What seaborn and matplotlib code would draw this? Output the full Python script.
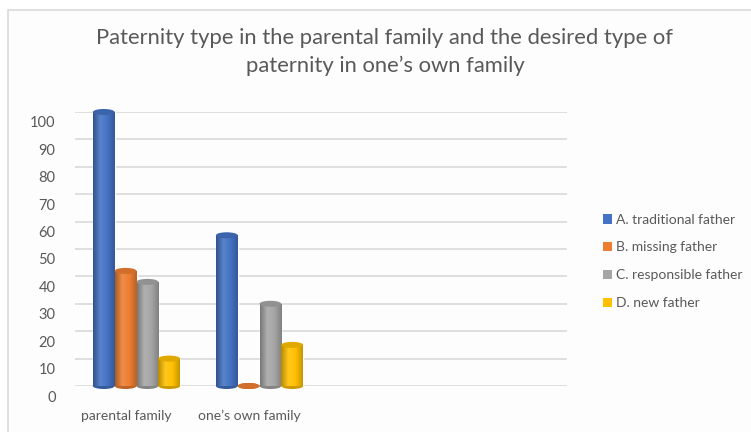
import matplotlib
matplotlib.use("Agg")
import matplotlib.pyplot as plt
import matplotlib.transforms as mtrans
from matplotlib.patches import Rectangle, Patch, Ellipse
from matplotlib.colors import LinearSegmentedColormap, to_rgb
import numpy as np
import seaborn as sns
import pandas as pd

categories = ["parental family", "one\u2019s own family"]
series = ["A. traditional father", "B. missing father", "C. responsible father", "D. new father"]
values_parental = [100, 42, 38, 10]
values_own = [55, 0, 30, 15]
yticks = [0, 10, 20, 30, 40, 50, 60, 70, 80, 90, 100]
colors = ["#4472C4", "#ED7D31", "#A5A5A5", "#FFC000"]
title = "Paternity type in the parental family and the desired type of\npaternity in one\u2019s own family"

rows = []
for s, a, b in zip(series, values_parental, values_own):
    rows.append({"category": categories[0], "series": s, "value": a})
    rows.append({"category": categories[1], "series": s, "value": b})
df = pd.DataFrame(rows)

sns.set_theme(style="white")
plt.rcParams["font.family"] = ["Lato", "DejaVu Sans"]

fig = plt.figure(figsize=(7.51, 4.32), dpi=100)
fig.patch.set_facecolor("white")
# chart border (cropped screenshot)
fig.patches.append(Rectangle((8 / 751, -0.1), 1.2, (432 - 10) / 432 + 0.1,
                             transform=fig.transFigure, facecolor="#fdfdfd",
                             edgecolor="#d9d9d9", linewidth=1.2, zorder=-5))

ax = fig.add_axes([75 / 751, (432 - 386) / 432, (567 - 75) / 751, (386 - 112) / 432])
ax.set_zorder(2)
ax.set_facecolor("none")
sns.barplot(data=df, x="category", y="value", hue="series", order=categories,
            hue_order=series, palette=colors, width=0.71, saturation=1,
            ax=ax, legend=False, zorder=3)
ax.set_xlim(-0.5, 3.5)
ax.set_ylim(0, 100)
ax.set_yticks(yticks)
ax.grid(axis="y", color="#d9d9d9", linewidth=1.2, zorder=0)
ax.set_axisbelow(True)
for sp in ax.spines.values():
    sp.set_visible(False)
ax.set_xlabel("")
ax.set_ylabel("")
ax.tick_params(axis="y", length=0, pad=14, labelsize=10.5, labelcolor="#595959")
ax.tick_params(axis="x", length=0, pad=17, labelsize=10, labelcolor="#595959")
off = mtrans.ScaledTranslation(0, -10 / 100, fig.dpi_scale_trans)
for lbl in ax.get_yticklabels():
    lbl.set_transform(lbl.get_transform() + off)
offx = mtrans.ScaledTranslation(-10 / 100, 0, fig.dpi_scale_trans)
for lbl in ax.get_xticklabels():
    lbl.set_transform(lbl.get_transform() + offx)

# cylinder-like shading and caps derived from the drawn bars
def shade(c, f):
    r = np.array(to_rgb(c))
    return tuple(np.clip(r * f, 0, 1))

def lighten(c, f):
    r = np.array(to_rgb(c))
    return tuple(np.clip(r + (1 - r) * f, 0, 1))

cap_h = 2.2  # in data units (y), visual only
bars = [p for p in ax.patches if isinstance(p, Rectangle)]
for p in bars:
    x, w, h = p.get_x(), p.get_width(), p.get_height()
    c = p.get_facecolor()
    cmap = LinearSegmentedColormap.from_list(
        "cyl", [shade(c, 0.72), lighten(c, 0.12), c, shade(c, 0.78)])
    if h > 0:
        grad = np.linspace(0, 1, 64).reshape(1, -1)
        im = ax.imshow(grad, extent=(x, x + w, 0, h), aspect="auto", cmap=cmap,
                       zorder=3.1, interpolation="bilinear")
        im.set_clip_path(p)
    ax.add_patch(Ellipse((x + w / 2, 0), w, cap_h, facecolor=shade(c, 0.8),
                         edgecolor="none", zorder=3.05, clip_on=False))
    ax.add_patch(Ellipse((x + w / 2, h), w, cap_h, facecolor=shade(c, 0.88),
                         edgecolor="none", zorder=3.2, clip_on=False))
ax.set_xlim(-0.5, 3.5)
ax.set_ylim(0, 100)

fig.text(385 / 751, 1 - 52 / 432, title, ha="center", va="center",
         fontsize=15.8, color="#595959", linespacing=1.45)

handles = [Patch(facecolor=c, edgecolor="none") for c in colors]
fig.legend(handles, series, loc="upper left", bbox_to_anchor=(590 / 751, 1 - 201 / 432),
           frameon=False, fontsize=10, labelcolor="#595959", handlelength=0.7,
           handleheight=0.7, handletextpad=0.3, labelspacing=1.15)

fig.savefig("out.png", dpi=100)
